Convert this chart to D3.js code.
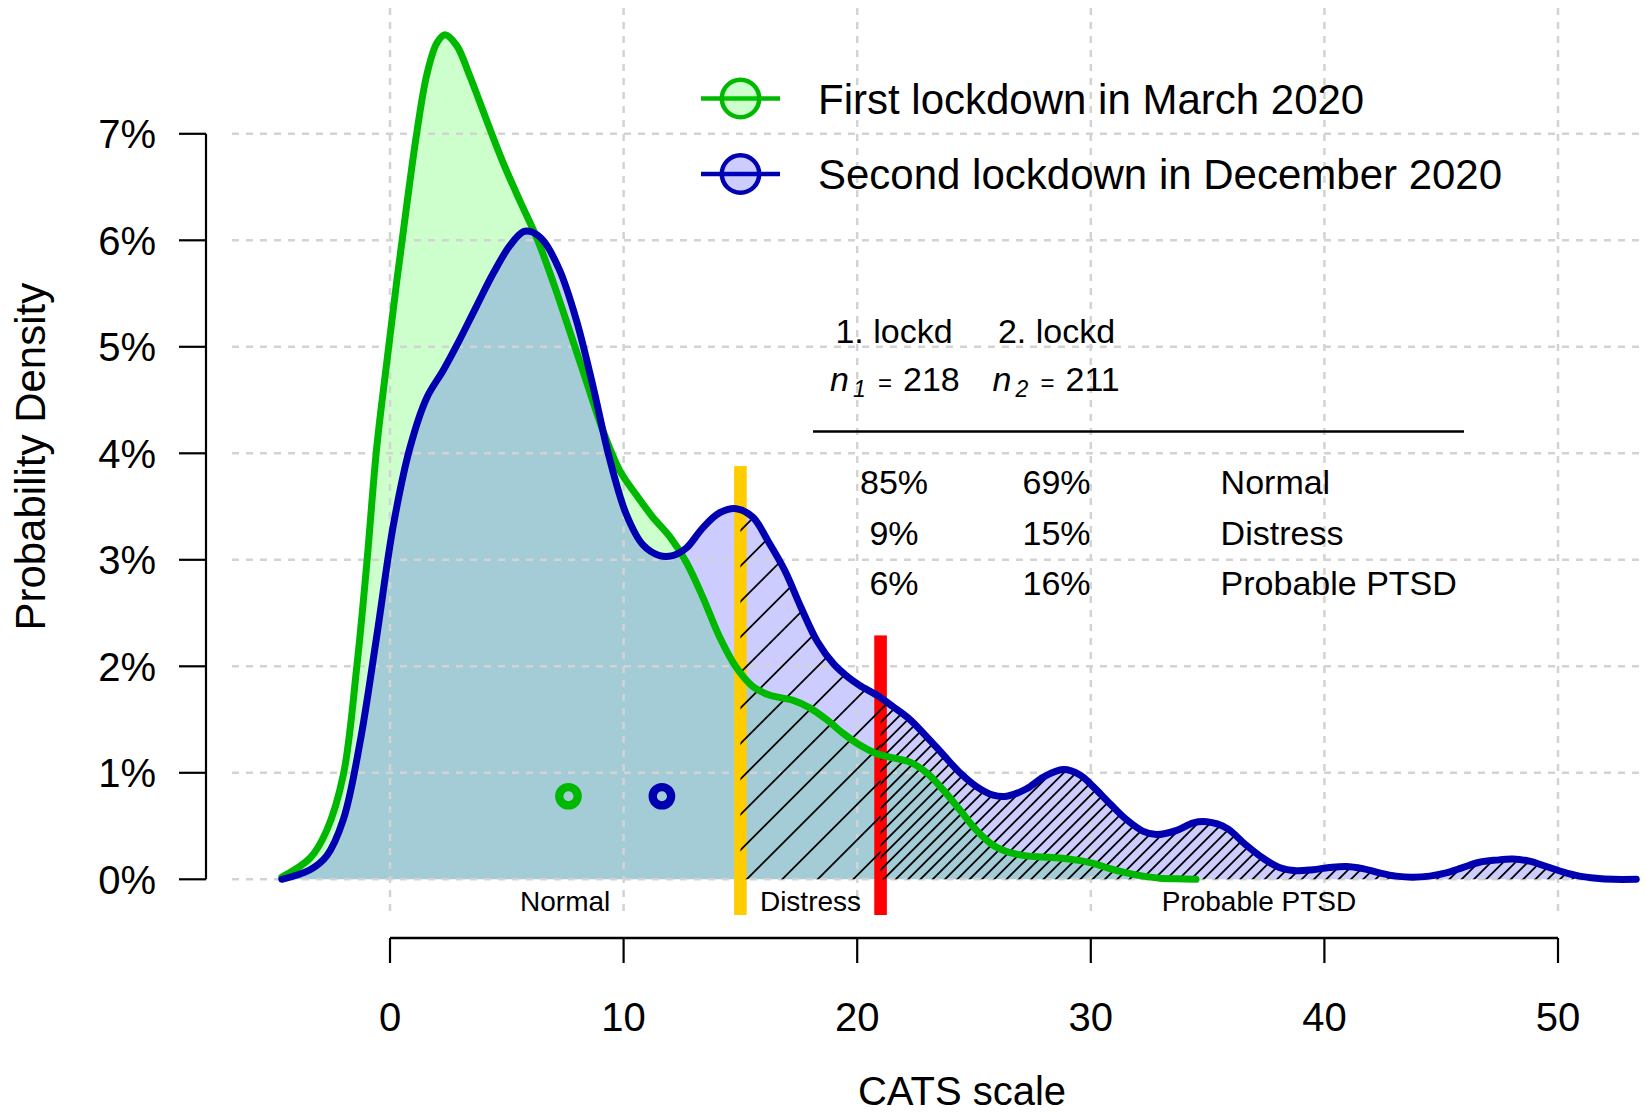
<!DOCTYPE html>
<html><head><meta charset="utf-8">
<script src="https://cdn.jsdelivr.net/npm/d3@7"></script>
<style>
body{margin:0;background:#fff}
svg{display:block}
text{font-family:"Liberation Sans",Arial,Helvetica,sans-serif;fill:#000}
</style>
</head><body>
<svg id="chart" width="1646" height="1112"></svg>
<script>
// ---------------- data ----------------
const greenX = [-4.63,-3.42,-2.71,-2.0,-1.42,-1.0,-0.57,-0.14,0.28,0.71,1.14,1.57,2.0,2.35,2.85,3.42,4.13,4.84,5.56,6.27,6.98,7.69,8.40,9.12,9.83,10.54,11.25,11.97,12.68,13.39,14.1,14.82,15.53,16.24,17.26,17.97,18.69,19.4,20.11,20.83,21.54,22.26,22.97,23.68,24.4,25.11,25.82,26.54,27.25,27.97,28.68,29.4,30.1,30.82,31.53,32.25,32.96,33.68,34.5];
const greenDensity = [0.02,0.2,0.46,0.98,2.0,2.95,4.05,4.85,5.6,6.32,7.0,7.55,7.85,7.93,7.83,7.54,7.13,6.73,6.37,6.03,5.61,5.15,4.68,4.21,3.84,3.61,3.40,3.22,2.98,2.65,2.28,1.99,1.81,1.73,1.68,1.61,1.50,1.37,1.26,1.18,1.14,1.10,1.0,0.84,0.65,0.46,0.32,0.25,0.22,0.21,0.20,0.18,0.15,0.10,0.06,0.03,0.01,0.005,0.0];

const blueX = [-4.63,-3.42,-2.71,-2.0,-1.28,-0.57,0.14,0.85,1.57,2.28,2.99,3.70,4.42,5.13,5.70,6.05,6.55,7.26,7.98,8.69,9.40,10.11,10.83,11.54,12.1,12.68,13.39,14.1,14.82,15.53,16.2,16.9,17.6,18.3,19.0,19.6,20.11,20.83,21.54,22.26,22.97,23.68,24.4,25.11,25.82,26.4,27.25,27.97,28.82,29.54,30.1,30.82,31.53,32.25,32.82,33.68,34.39,34.96,35.82,36.6,37.36,38.07,38.79,39.5,40.21,40.93,41.64,42.36,43.07,43.78,44.5,45.21,45.92,46.64,47.35,48.07,48.78,49.5,50.2,50.92,51.63,52.35,53.35];
const blueDensity = [0.0,0.09,0.22,0.56,1.29,2.28,3.32,4.05,4.52,4.78,5.07,5.38,5.69,5.95,6.08,6.08,6.0,5.72,5.25,4.63,3.95,3.43,3.14,3.04,3.04,3.11,3.30,3.44,3.48,3.40,3.17,2.90,2.55,2.23,2.02,1.90,1.82,1.73,1.62,1.50,1.34,1.17,1.0,0.87,0.79,0.78,0.85,0.96,1.03,0.98,0.87,0.71,0.56,0.45,0.42,0.46,0.53,0.54,0.48,0.33,0.20,0.11,0.08,0.09,0.11,0.12,0.10,0.06,0.03,0.02,0.03,0.06,0.11,0.16,0.18,0.19,0.17,0.12,0.07,0.03,0.01,0.0,0.0];

const xTicks = [0,10,20,30,40,50];
const yTicks = [0,1,2,3,4,5,6,7];
const yTickLabels = ["0%","1%","2%","3%","4%","5%","6%","7%"];
const seriesNames = ["First lockdown in March 2020","Second lockdown in December 2020"];
const seriesMeans = [7.64, 11.64];
const meanMarkerDensity = 0.78;
const cutoffs = [15, 21];
const cutoffTops = [3.88, 2.29];
const categories = ["Normal","Distress","Probable PTSD"];
const categoryCenters = [7.5, 18, 37.2];
const tableHeaders = ["1. lockd","2. lockd"];
const sampleSizes = [218, 211];
const pctFirst = ["85%","9%","6%"];
const pctSecond = ["69%","15%","16%"];

// ---------------- setup ----------------
const W = 1646, H = 1112;
const svg = d3.select("#chart");
const x = d3.scaleLinear().domain([0,50]).range([390,1558]);
const y = d3.scaleLinear().domain([0,7]).range([879.3,133.8]);

const GREEN = "#00b800", BLUE = "#0000b0";
const greenPts = greenX.map((v,i)=>[v,greenDensity[i]]);
const bluePts = blueX.map((v,i)=>[v,blueDensity[i]]);
const curve = d3.curveCatmullRom.alpha(0.5);
const area = d3.area().x(d=>x(d[0])).y0(y(0)).y1(d=>y(d[1])).curve(curve);
const line = d3.line().x(d=>x(d[0])).y(d=>y(d[1])).curve(curve);

const defs = svg.append("defs");

// fills
svg.append("path").attr("d",area(greenPts)).attr("fill","rgba(0,255,0,0.2)");
svg.append("path").attr("d",area(bluePts)).attr("fill","rgba(0,0,255,0.2)");

// grid
const grid = svg.append("g").attr("stroke","#d3d3d3").attr("stroke-width",2.5).attr("stroke-dasharray","7,7");
grid.selectAll("line.v").data(xTicks).join("line")
  .attr("x1",d=>x(d)).attr("x2",d=>x(d)).attr("y1",8).attr("y2",913);
grid.selectAll("line.h").data(yTicks).join("line")
  .attr("x1",232).attr("x2",W).attr("y1",d=>y(d)).attr("y2",d=>y(d));

// cutoff bars
const barColors = ["#ffcc00","#ff0000"];
svg.selectAll("rect.cut").data(cutoffs).join("rect")
  .attr("x",d=>x(d)-6.3).attr("width",12.6)
  .attr("y",(d,i)=>y(cutoffTops[i])).attr("height",(d,i)=>915-y(cutoffTops[i]))
  .attr("fill",(d,i)=>barColors[i]);

// hatching
defs.append("clipPath").attr("id","blueClip").append("path").attr("d",area(bluePts));
defs.append("clipPath").attr("id","distClip").append("rect")
  .attr("x",x(cutoffs[0])).attr("y",0).attr("width",x(cutoffs[1])-x(cutoffs[0])).attr("height",H);
defs.append("clipPath").attr("id","ptsdClip").append("rect")
  .attr("x",x(cutoffs[1])).attr("y",0).attr("width",W-x(cutoffs[1])).attr("height",H);

function hatch(clipId, start, step){
  const g = svg.append("g").attr("clip-path","url(#blueClip)")
    .append("g").attr("clip-path","url(#"+clipId+")");
  const y0 = y(0);
  const cs = d3.range(start-40*step, W+step, step);
  g.selectAll("line").data(cs).join("line")
    .attr("x1",c=>c-50).attr("y1",y0+50).attr("x2",c=>c+900).attr("y2",y0-900)
    .attr("stroke","#000").attr("stroke-width",1.8);
}
hatch("distClip", 746.7, 35.5);
hatch("ptsdClip", 883.5, 12.3);

// curves
svg.append("path").attr("d",line(greenPts)).attr("fill","none").attr("stroke",GREEN)
  .attr("stroke-width",7).attr("stroke-linecap","round").attr("stroke-linejoin","round");
svg.append("path").attr("d",line(bluePts)).attr("fill","none").attr("stroke",BLUE)
  .attr("stroke-width",7).attr("stroke-linecap","round").attr("stroke-linejoin","round");

// mean markers
svg.selectAll("circle.mean").data(seriesMeans).join("circle")
  .attr("cx",d=>x(d)).attr("cy",y(meanMarkerDensity)).attr("r",9.2)
  .attr("fill","none").attr("stroke",(d,i)=>i?BLUE:GREEN).attr("stroke-width",8.3);

// category labels
svg.selectAll("text.cat").data(categories).join("text")
  .attr("x",(d,i)=>x(categoryCenters[i])).attr("y",911)
  .attr("text-anchor","middle").attr("font-size",28).text(d=>d);

// legend
const leg = svg.append("g");
seriesNames.forEach((name,i)=>{
  const cy = i ? 174 : 98.5;
  const col = i ? BLUE : GREEN;
  leg.append("line").attr("x1",701).attr("x2",780).attr("y1",cy).attr("y2",cy)
    .attr("stroke",col).attr("stroke-width",4.6);
  leg.append("circle").attr("cx",740.5).attr("cy",cy).attr("r",18.7)
    .attr("fill",i?"rgba(0,0,255,0.2)":"rgba(0,255,0,0.2)").attr("stroke",col).attr("stroke-width",4.5);
  leg.append("text").attr("x",818).attr("y",cy+15).attr("font-size",42).text(name);
});

// table
const colX = [894, 1056.5];
tableHeaders.forEach((h,i)=>{
  svg.append("text").attr("x",colX[i]).attr("y",342.7).attr("text-anchor","middle")
    .attr("font-size",34).text(h);
  const t = svg.append("text").attr("y",390.7).attr("font-size",34);
  t.append("tspan").attr("x",colX[i]-64).attr("font-style","italic").text("n");
  t.append("tspan").attr("x",colX[i]-41).attr("dy",6).attr("font-size",23).attr("font-style","italic").text(String(i+1));
  t.append("tspan").attr("x",colX[i]-16).attr("dy",-6).attr("font-size",24).text("=");
  t.append("tspan").attr("x",colX[i]+9).text(String(sampleSizes[i]));
});
svg.append("line").attr("x1",813).attr("x2",1464).attr("y1",431.5).attr("y2",431.5)
  .attr("stroke","#000").attr("stroke-width",2.5);
const rowY = [494, 545, 595];
categories.forEach((c,i)=>{
  svg.append("text").attr("x",colX[0]).attr("y",rowY[i]).attr("text-anchor","middle").attr("font-size",34).text(pctFirst[i]);
  svg.append("text").attr("x",colX[1]).attr("y",rowY[i]).attr("text-anchor","middle").attr("font-size",34).text(pctSecond[i]);
  svg.append("text").attr("x",1220.6).attr("y",rowY[i]).attr("font-size",34).text(c);
});

// y axis
const ya = svg.append("g");
ya.append("line").attr("x1",206).attr("x2",206).attr("y1",y(0)).attr("y2",y(7))
  .attr("stroke","#000").attr("stroke-width",2.2);
ya.selectAll("line.t").data(yTicks).join("line")
  .attr("x1",179).attr("x2",206).attr("y1",d=>y(d)).attr("y2",d=>y(d))
  .attr("stroke","#000").attr("stroke-width",2.2);
ya.selectAll("text").data(yTicks).join("text")
  .attr("x",156).attr("y",d=>y(d)+14.3).attr("text-anchor","end").attr("font-size",40)
  .text((d,i)=>yTickLabels[i]);
svg.append("text").attr("transform","translate(45,456.7) rotate(-90)")
  .attr("text-anchor","middle").attr("font-size",42).text("Probability Density");

// x axis
const xa = svg.append("g");
xa.append("line").attr("x1",x(0)).attr("x2",x(50)).attr("y1",938).attr("y2",938)
  .attr("stroke","#000").attr("stroke-width",2.5);
xa.selectAll("line.t").data(xTicks).join("line")
  .attr("x1",d=>x(d)).attr("x2",d=>x(d)).attr("y1",938).attr("y2",963)
  .attr("stroke","#000").attr("stroke-width",2.2);
xa.selectAll("text").data(xTicks).join("text")
  .attr("x",d=>x(d)).attr("y",1031).attr("text-anchor","middle").attr("font-size",40).text(d=>d);
svg.append("text").attr("x",962).attr("y",1105).attr("text-anchor","middle").attr("font-size",40).text("CATS scale");
</script>
</body></html>
